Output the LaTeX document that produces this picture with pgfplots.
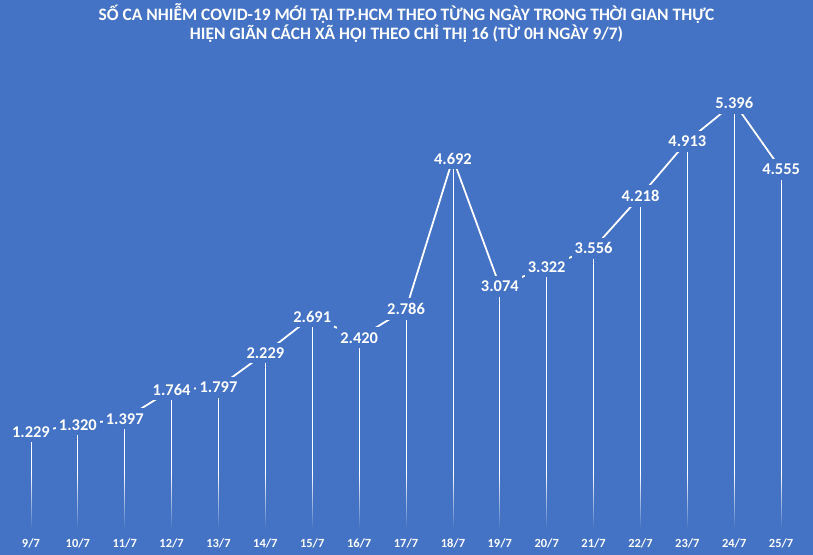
\documentclass[border=0pt]{standalone}
\usepackage{fontspec}
\setmainfont{Carlito}
\usepackage{pgfplots}
\usepackage{pgfplotstable}
\pgfplotsset{compat=1.18}
\usetikzlibrary{fadings}
\definecolor{bg}{HTML}{4472C4}
\pgfplotstableread{
x y lab
0 1229 1.229
1 1320 1.320
2 1397 1.397
3 1764 1.764
4 1797 1.797
5 2229 2.229
6 2691 2.691
7 2420 2.420
8 2786 2.786
9 4692 4.692
10 3074 3.074
11 3322 3.322
12 3556 3.556
13 4218 4.218
14 4913 4.913
15 5396 5.396
16 4555 4.555
}\data
\begin{document}
\begin{tikzpicture}
\begin{axis}[
  width=813bp, height=555bp, scale only axis,
  xmin=-0.66, xmax=16.68, ymin=-329, ymax=6700,
  axis background/.style={fill=bg},
  axis line style={draw=none},
  tick style={draw=none},
  ytick=\empty,
  xtick={0,...,16},
  xticklabels={9/7,10/7,11/7,12/7,13/7,14/7,15/7,16/7,17/7,18/7,19/7,20/7,21/7,22/7,23/7,24/7,25/7},
  xticklabel style={anchor=center, yshift=12bp, font=\fontsize{12.5}{14}\selectfont\bfseries, text=white},
  clip=false,
]
\addplot[white, line width=1.8bp, mark=none] table[x=x,y=y] {\data};
\addplot[ycomb, white, line width=0.8bp, mark=none] table[x=x,y=y] {\data};
\fill[bg, path fading=north] (axis cs:-0.66,-5) rectangle (axis cs:16.68,700);
\addplot[draw=none, mark=none, nodes near coords, point meta=explicit symbolic,
  every node near coord/.append style={anchor=center, fill=bg, inner xsep=3.2bp, inner ysep=5bp, text=white,
    font=\fontsize{16.5}{18}\selectfont\bfseries}]
  table[x=x,y=y,meta=lab] {\data};
\node[text=white, font=\fontsize{17.5}{19}\selectfont\bfseries] at (rel axis cs:0.5,{1-14/555}) {SỐ CA NHIỄM COVID-19 MỚI TẠI TP.HCM THEO TỪNG NGÀY TRONG THỜI GIAN THỰC};
\node[text=white, font=\fontsize{17.5}{19}\selectfont\bfseries] at (rel axis cs:0.5,{1-34/555}) {HIỆN GIÃN CÁCH XÃ HỘI THEO CHỈ THỊ 16 (TỪ 0H NGÀY 9/7)};
\end{axis}
\end{tikzpicture}
\end{document}
